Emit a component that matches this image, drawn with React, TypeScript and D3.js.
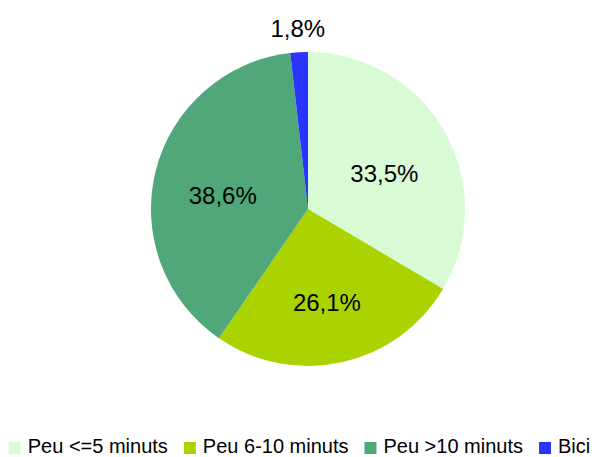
import React from "react";
import * as d3 from "d3";

const categories = ["Peu <=5 minuts", "Peu 6-10 minuts", "Peu >10 minuts", "Bici"];
const values = [33.5, 26.1, 38.6, 1.8];
const labels = ["33,5%", "26,1%", "38,6%", "1,8%"];
const colors = ["#D8FBD6", "#ABD300", "#50A77A", "#2B33FF"];

const W = 599;
const H = 457;
const cx = 308;
const cy = 209;
const R = 157;
const FONT = "'Liberation Sans', Arial, sans-serif";

export default function App() {
  const pie = d3.pie<number>().sort(null).value((d) => d)(values);
  const arc = d3.arc<d3.PieArcDatum<number>>().innerRadius(0).outerRadius(R);
  const labelArc = d3.arc<d3.PieArcDatum<number>>().innerRadius(R * 0.56).outerRadius(R * 0.56);
  const outArc = d3.arc<d3.PieArcDatum<number>>().innerRadius(R + 24).outerRadius(R + 24);

  // legend layout
  const fontSize = 20;
  const sq = 12;
  const gapSqText = 7;
  const gapItems = 16;
  const measure = (s: string) => {
    const widths: Record<string, number> = {
      P: 667, e: 556, u: 556, " ": 278, "<": 584, "=": 584, ">": 584, "5": 556, "6": 556, "1": 556, "0": 556,
      "-": 333, m: 833, i: 222, n: 556, t: 278, s: 500, B: 667, c: 500,
    };
    let w = 0;
    for (const ch of s) w += widths[ch] ?? 556;
    return (w / 1000) * fontSize;
  };
  const itemWidths = categories.map((c) => sq + gapSqText + measure(c));
  const total = itemWidths.reduce((a, b) => a + b, 0) + gapItems * (categories.length - 1);
  let x0 = (W - total) / 2;
  const legendX = itemWidths.map((w) => {
    const x = x0;
    x0 += w + gapItems;
    return x;
  });

  return (
    <svg width={W} height={H} style={{ position: "absolute", left: 0, top: 0, background: "#fff" }}>
      <g transform={`translate(${cx},${cy})`}>
        {pie.map((p, i) => (
          <path key={i} d={arc(p) ?? ""} fill={colors[i]} />
        ))}
        {pie.map((p, i) => {
          const small = p.value < 5;
          const [lx, ly] = small ? outArc.centroid(p) : labelArc.centroid(p);
          return (
            <text
              key={"l" + i}
              x={lx}
              y={small ? ly : ly + 8}
              dy="0.35em"
              textAnchor="middle"
              fontFamily={FONT}
              fontSize={24}
              fill="#000"
            >
              {labels[i]}
            </text>
          );
        })}
      </g>
      <g>
        {categories.map((c, i) => (
          <g key={c} transform={`translate(${legendX[i]},0)`}>
            <rect x={0} y={442} width={sq} height={sq} fill={colors[i]} />
            <text x={sq + gapSqText} y={453} fontFamily={FONT} fontSize={fontSize} fill="#000">
              {c}
            </text>
          </g>
        ))}
      </g>
    </svg>
  );
}
